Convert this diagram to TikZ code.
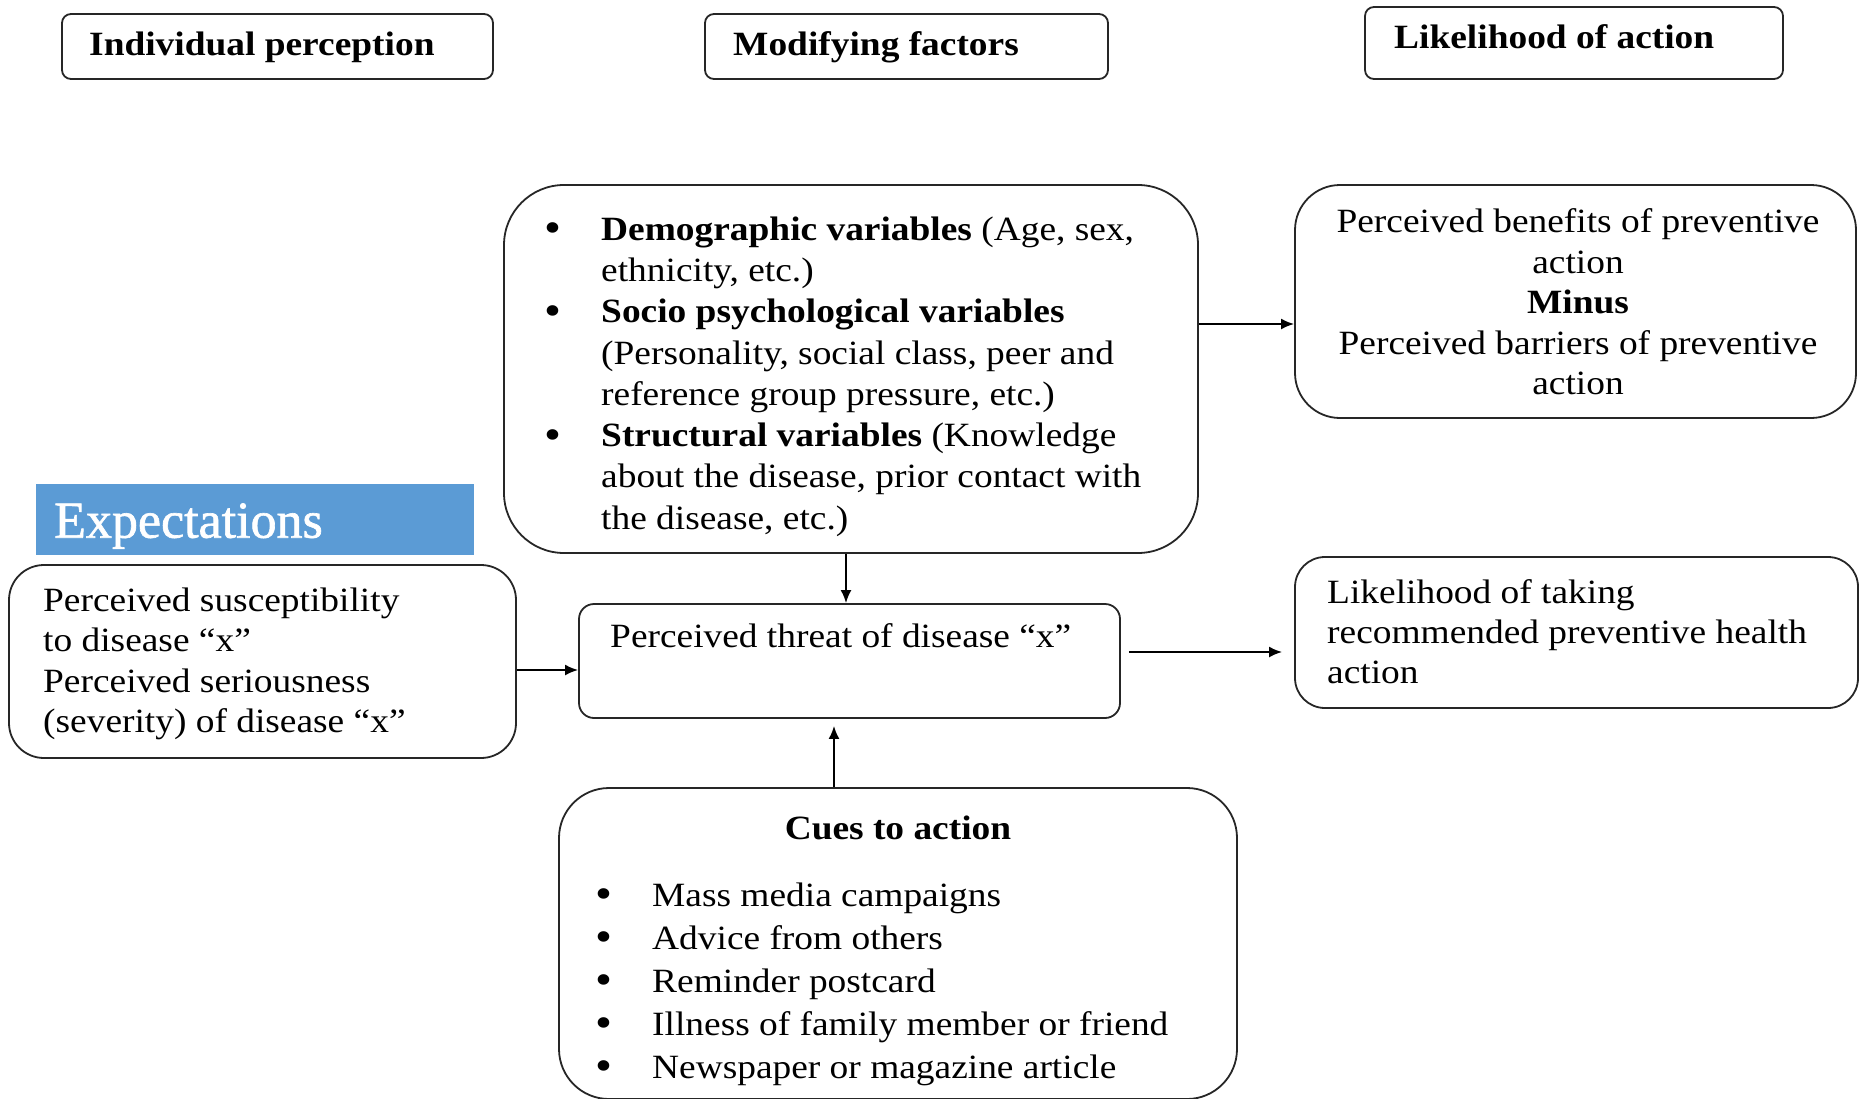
\documentclass[tikz,border=0pt]{standalone}
\usepackage{fontspec}
\setmainfont{Liberation Serif}[FakeStretch=1.1]
\newfontfamily\expfont{Liberation Serif}[FakeBold=1.2]
\usetikzlibrary{arrows.meta,calc}
\definecolor{expblue}{HTML}{5B9BD5}
\newcommand\bodyfont{\fontsize{34}{41}\selectfont}
\newcommand\linesat[1]{\fontsize{34}{#1}\selectfont}
\newcommand\bigbullet{\raisebox{-2.5pt}{\fontsize{44}{41}\selectfont\textbullet}}

\begin{document}
\begin{tikzpicture}[x=1pt,y=-1pt,
  box/.style={draw=black!85, line width=1.8pt, inner sep=0pt},
  conn/.style={line width=2pt, -{Latex[length=13pt,width=11pt]}},
  txt/.style={inner sep=0pt, font=\bodyfont},
  head/.style={txt, anchor=west, font=\bodyfont\bfseries},
]
\useasboundingbox (0,0) rectangle (1860,1098);

% column headings
\node[box, rounded corners=9pt, minimum width=431pt, minimum height=65pt] (indiv) at (277.5,46.5) {};
\node[head] (indivlabel) at (89,47.5) {Individual perception};
\node[box, rounded corners=9pt, minimum width=403pt, minimum height=65pt] (modif) at (906.5,46.5) {};
\node[head] (modiflabel) at (733,47.5) {Modifying factors};
\node[box, rounded corners=9pt, minimum width=418pt, minimum height=72pt] (likeact) at (1574,43) {};
\node[head] (likeactlabel) at (1394,37) {Likelihood of action};

% modifying factors
\node[box, rounded corners=60pt, minimum width=694pt, minimum height=368pt] (demo) at (851,369) {};
\node[txt, anchor=north west] (demotext) at (544,211) {\linesat{41.3}%
  \begin{tabular}{@{}p{57pt}@{}l@{}}
  \bigbullet & \textbf{Demographic variables} (Age, sex,\\
   & ethnicity, etc.)\\
  \bigbullet & \textbf{Socio psychological variables}\\
   & (Personality, social class, peer and\\
   & reference group pressure, etc.)\\
  \bigbullet & \textbf{Structural variables} (Knowledge\\
   & about the disease, prior contact with\\
   & the disease, etc.)
  \end{tabular}};

% benefits minus barriers
\node[box, rounded corners=45pt, minimum width=561pt, minimum height=233pt] (benefit) at (1575.5,301.5) {};
\node[txt, anchor=north] (bentext) at (1578,204) {\linesat{40.5}%
  \begin{tabular}{@{}c@{}}
  Perceived benefits of preventive\\
  action\\
  \textbf{Minus}\\
  Perceived barriers of preventive\\
  action
  \end{tabular}};

% expectations
\node[fill=expblue, inner sep=0pt, minimum width=438pt, minimum height=71pt] (expbar) at (255,519.5) {};
\node[inner sep=0pt, anchor=west, text=white, font=\expfont\fontsize{52}{60}\selectfont] (explabel) at (54,526) {Expectations};

\node[box, rounded corners=35pt, minimum width=507pt, minimum height=193pt] (suscept) at (262.5,661.5) {};
\node[txt, anchor=north west] (susctext) at (43,583) {\linesat{40.3}%
  \begin{tabular}{@{}l@{}}
  Perceived susceptibility\\
  to disease “x”\\
  Perceived seriousness\\
  (severity) of disease “x”
  \end{tabular}};

% perceived threat
\node[box, rounded corners=15pt, minimum width=541pt, minimum height=114pt] (threat) at (849.5,661) {};
\node[txt, anchor=north west] (threattext) at (610,619) {\linesat{41}%
  \begin{tabular}{@{}l@{}}
  Perceived threat of disease “x”
  \end{tabular}};

% likelihood of taking action
\node[box, rounded corners=30pt, minimum width=563pt, minimum height=151pt] (liketak) at (1576.5,632.5) {};
\node[txt, anchor=north west] (liketext) at (1327,575) {\linesat{40}%
  \begin{tabular}{@{}l@{}}
  Likelihood of taking\\
  recommended preventive health\\
  action
  \end{tabular}};

% cues to action
\node[box, rounded corners=50pt, minimum width=678pt, minimum height=311pt] (cues) at (898,943.5) {};
\node[txt, font=\bodyfont\bfseries] (cuestitle) at (898,827.5) {Cues to action};
\node[txt, anchor=north west] (cuestext) at (595,876) {\linesat{43}%
  \begin{tabular}{@{}p{57pt}@{}l@{}}
  \bigbullet & Mass media campaigns\\
  \bigbullet & Advice from others\\
  \bigbullet & Reminder postcard\\
  \bigbullet & Illness of family member or friend\\
  \bigbullet & Newspaper or magazine article
  \end{tabular}};

% connectors
\coordinate (d2t) at ($(demo.south)+(-5,0)$);
\draw[conn] (d2t) -- (d2t |- threat.north);
\coordinate (d2b) at ($(demo.east)+(0,-45)$);
\draw[conn] (d2b) -- (d2b -| benefit.west);
\coordinate (s2t) at ($(suscept.east)+(0,8.5)$);
\draw[conn] (s2t) -- (s2t -| threat.west);
\coordinate (t2l) at ($(threat.east)+(8,-9)$);
\draw[conn] (t2l) -- ($(t2l -| liketak.west)+(-12,0)$);
\coordinate (c2t) at ($(cues.north)+(-64,0)$);
\draw[conn] (c2t) -- ($(c2t |- threat.south)+(0,7)$);
\end{tikzpicture}
\end{document}
